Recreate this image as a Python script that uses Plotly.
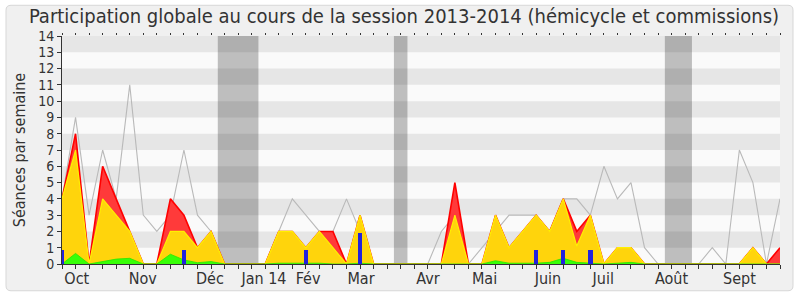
import plotly.graph_objects as go

weeks = list(range(54))
gray_total = [4, 9, 3, 7, 4, 11, 3, 2, 3, 7, 3, 2, 0, 0, 0, 0, 2, 4, 3, 2, 2, 4, 2, 0, 0, 0, 0, 0,
              2, 3, 0, 1, 2, 3, 3, 3, 2, 4, 4, 3, 6, 4, 5, 1, 0, 0, 0, 0, 1, 0, 7, 5, 0, 4]
red_total = [4, 8, 0, 6, 4, 2, 0, 0, 4, 3, 1, 2, 0, 0, 0, 0, 2, 2, 1, 2, 2, 0, 3, 0, 0, 0, 0, 0,
             0, 5, 0, 0, 3, 1, 2, 3, 2, 4, 2, 3, 0, 1, 1, 0, 0, 0, 0, 0, 0, 0, 0, 1, 0, 1]
yellow_comm = [4, 7, 0, 4, 3, 2, 0, 0, 2, 2, 1, 2, 0, 0, 0, 0, 2, 2, 1, 2, 1, 0, 3, 0, 0, 0, 0, 0,
               0, 3, 0, 0, 3, 1, 2, 3, 2, 4, 1.1, 3, 0, 1, 1, 0, 0, 0, 0, 0, 0, 0, 0, 1, 0, 0]
green_hemi = [0, 0.65, 0, 0.15, 0.3, 0.35, 0, 0, 0.6, 0.25, 0.08, 0.15, 0, 0, 0, 0, 0.05, 0.05, 0.05, 0.05, 0, 0, 0.05, 0, 0, 0, 0, 0,
              0, 0, 0, 0, 0.2, 0.05, 0.05, 0.05, 0.1, 0.35, 0.1, 0.05, 0, 0.05, 0.1, 0, 0, 0, 0, 0, 0, 0, 0, 0.03, 0, 0]
blue_bars = [0.85, 0, 0, 0, 0, 0, 0, 0, 0, 0.85, 0, 0, 0, 0, 0, 0, 0, 0, 0.85, 0, 0, 0, 1.9, 0, 0, 0, 0, 0,
             0, 0, 0, 0, 0, 0, 0, 0.85, 0, 0.85, 0, 0.85, 0, 0, 0, 0, 0, 0, 0, 0, 0, 0, 0, 0, 0, 0]
vacations = [(11.5, 14.5), (24.5, 25.5), (44.5, 46.5)]
month_labels = ["Oct", "Nov", "Déc", "Jan 14", "Fév", "Mar", "Avr", "Mai", "Juin", "Juil", "Août", "Sept"]
month_pos = [1.09, 5.96, 10.92, 14.91, 18.16, 22.07, 27.02, 31.19, 35.87, 39.95, 44.99, 50.01]

FONT = "DejaVu Sans Condensed, DejaVu Sans"
TXT = "#333333"

fig = go.Figure()
fig.add_trace(go.Scatter(x=weeks, y=gray_total, mode="lines",
                         line=dict(color="rgb(185,185,185)", width=1.1), hoverinfo="skip"))
fig.add_trace(go.Scatter(x=weeks, y=red_total, mode="lines", fill="tozeroy",
                         fillcolor="rgb(255,58,58)", line=dict(color="rgb(255,0,0)", width=1.6)))
fig.add_trace(go.Scatter(x=weeks, y=yellow_comm, mode="lines", fill="tozeroy",
                         fillcolor="rgb(255,212,12)", line=dict(color="rgb(255,240,0)", width=1.2)))
fig.add_trace(go.Scatter(x=weeks, y=green_hemi, mode="lines", fill="tozeroy",
                         fillcolor="rgb(56,255,8)", line=dict(color="rgb(40,230,0)", width=0.8)))
fig.add_trace(go.Bar(x=weeks, y=blue_bars, width=0.33, marker=dict(color="rgb(34,34,221)", line=dict(width=0)),
                     xaxis="x", yaxis="y2"))
fig.add_trace(go.Scatter(x=[], y=[], xaxis="x2", yaxis="y", showlegend=False))

shapes = []
L, R, B, T = -56/718, 731/718, -27/230, 261/230
dx, dy = 5/718, 5/230
path = (f"M {L+dx},{T} L {R-dx},{T} Q {R},{T} {R},{T-dy} L {R},{B+dy} Q {R},{B} {R-dx},{B} "
        f"L {L+dx},{B} Q {L},{B} {L},{B+dy} L {L},{T-dy} Q {L},{T} {L+dx},{T} Z")
shapes.append(dict(type="path", path=path, xref="paper", yref="paper", layer="below",
                   fillcolor="rgb(240,240,240)", line=dict(color="rgb(215,215,215)", width=1)))
shapes.append(dict(type="rect", xref="paper", yref="paper", x0=0, x1=1, y0=0, y1=1, layer="below",
                   fillcolor="rgb(250,250,250)", line=dict(width=0)))
for k in range(1, 14, 2):
    shapes.append(dict(type="rect", xref="paper", yref="y", x0=0, x1=1, y0=k, y1=k + 1, layer="below",
                       fillcolor="rgb(230,230,230)", line=dict(width=0)))
for a, b in vacations:
    shapes.append(dict(type="rect", xref="x", yref="paper", x0=a, x1=b, y0=0, y1=1, layer="below",
                       fillcolor="rgba(0,0,0,0.24)", line=dict(width=0)))

fig.update_layout(
    width=800, height=300,
    margin=dict(l=62, r=20, t=36, b=34),
    paper_bgcolor="white", plot_bgcolor="rgba(0,0,0,0)",
    showlegend=False, bargap=0,
    font=dict(family=FONT, color=TXT, size=14),
    title=dict(text="Participation globale au cours de la session 2013-2014 (hémicycle et commissions)",
               xref="container", yref="container", x=0.505, xanchor="center", y=0.948, yanchor="middle",
               font=dict(family=FONT, size=20, color=TXT)),
    shapes=shapes,
    xaxis=dict(range=[0, 53], tickmode="array", tickvals=month_pos, ticktext=month_labels,
               ticks="", showgrid=False, zeroline=False, showline=True, linecolor="#333", linewidth=1,
               tickfont=dict(size=16, family=FONT, color=TXT),
               minor=dict(tickmode="array", tickvals=weeks, ticks="outside", ticklen=4, tickcolor="#333", showgrid=False)),
    xaxis2=dict(range=[0, 53], overlaying="x", side="top", anchor="y", tickmode="array", tickvals=weeks,
                ticks="outside", ticklen=2, tickcolor="#333", showticklabels=False, showline=False,
                showgrid=False, zeroline=False),
    yaxis=dict(range=[0, 14], tickmode="linear", tick0=0, dtick=1, ticks="outside", ticklen=4, tickcolor="#333",
               showgrid=False, zeroline=False, showline=True, linecolor="#333", linewidth=1,
               tickfont=dict(size=14, family=FONT, color=TXT),
               title=dict(text="Séances par semaine", font=dict(size=16, family=FONT, color=TXT), standoff=8)),
    yaxis2=dict(range=[0, 14], overlaying="y", visible=False),
)
fig.write_html("out.html")
